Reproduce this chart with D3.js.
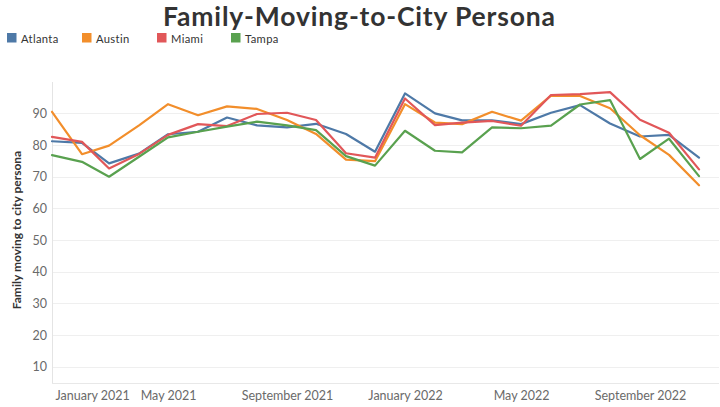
<!DOCTYPE html>
<html><head><meta charset="utf-8">
<script src="https://cdn.jsdelivr.net/npm/d3@7"></script>
<style>
html,body{margin:0;padding:0;background:#fff;}
svg{display:block;}
</style></head>
<body>
<svg id="chart" width="720" height="407"></svg>
<script>
const months = ["2021-01","2021-02","2021-03","2021-04","2021-05","2021-06","2021-07","2021-08","2021-09","2021-10","2021-11","2021-12",
  "2022-01","2022-02","2022-03","2022-04","2022-05","2022-06","2022-07","2022-08","2022-09","2022-10","2022-11"];
const cities = ["Atlanta","Austin","Miami","Tampa"];
const atlanta = [81.2,80.7,74.2,77.3,83.4,84.2,88.7,86.2,85.6,86.7,83.5,77.9,96.3,90.0,87.8,87.8,86.6,90.2,92.6,86.8,82.7,83.2,76.0];
const austin  = [90.5,77.1,79.8,86.2,92.9,89.4,92.2,91.4,87.9,83.5,75.4,74.9,92.9,87.1,86.6,90.5,87.7,95.6,95.5,91.6,83.1,76.9,67.3];
const miami   = [82.6,81.0,72.6,77.2,83.2,86.6,86.0,89.8,90.2,87.9,77.4,76.0,94.7,86.3,87.1,87.6,86.1,95.8,96.1,96.7,88.0,83.9,72.3];
const tampa   = [76.8,74.7,70.0,76.3,82.4,84.2,85.8,87.4,86.2,84.7,76.5,73.5,84.5,78.2,77.7,85.6,85.3,86.1,92.8,94.2,75.6,82.0,70.2];
const yTicks = [10,20,30,40,50,60,70,80,90];
const xTickLabels = ["January 2021","May 2021","September 2021","January 2022","May 2022","September 2022"];
const xTickDates = ["2021-01","2021-05","2021-09","2022-01","2022-05","2022-09"];
const colors = ["#4e79a7","#f28e2b","#e15759","#59a14f"];
const title = "Family-Moving-to-City Persona";
const yTitle = "Family moving to city persona";

const seriesValues = [atlanta, austin, miami, tampa];
const parse = d3.timeParse("%Y-%m");
const dates = months.map(parse);

const svg = d3.select("#chart");
const font = "Lato, 'Open Sans', sans-serif";

const plot = {left:52, right:719, top:82, bottom:383};
const x = d3.scaleTime().domain([dates[0], dates[dates.length-1]]).range([52, 699]);
const y = d3.scaleLinear().domain([0, 100]).range([398.4, 81.7]);

// gridlines
svg.append("g").selectAll("line").data(yTicks).join("line")
  .attr("x1", plot.left).attr("x2", plot.right)
  .attr("y1", d => Math.round(y(d))+0.5).attr("y2", d => Math.round(y(d))+0.5)
  .attr("stroke", "#efefef").attr("stroke-width", 1);

// axis lines
svg.append("line").attr("x1", plot.left+0.5).attr("x2", plot.left+0.5)
  .attr("y1", plot.top).attr("y2", plot.bottom).attr("stroke", "#e4e4e4");
svg.append("line").attr("x1", plot.left).attr("x2", plot.right)
  .attr("y1", plot.bottom+0.5).attr("y2", plot.bottom+0.5).attr("stroke", "#e8e8e8");

// y axis labels
const yAxis = d3.axisLeft(y).tickValues(yTicks).tickSize(0).tickPadding(5);
const yg = svg.append("g").attr("transform", `translate(${plot.left-0},0)`).call(yAxis);
yg.select(".domain").remove();
yg.selectAll("text").attr("font-family", font).attr("font-size", 12.5).attr("fill", "#6a6a6a");

// x axis labels
const xAxis = d3.axisBottom(x).tickValues(xTickDates.map(parse))
  .tickFormat((d,i) => xTickLabels[i]).tickSize(0).tickPadding(8);
const xg = svg.append("g").attr("transform", `translate(0,${plot.bottom})`).call(xAxis);
xg.select(".domain").remove();
xg.selectAll("text").attr("font-family", font).attr("font-size", 12.5).attr("fill", "#6a6a6a");
xg.selectAll("text").each(function(d){
  const w = this.getComputedTextLength();
  const cx = x(d);
  if (cx - w/2 < plot.left + 3) {
    d3.select(this).attr("text-anchor","start").attr("x", plot.left + 3 - cx);
  }
});

// y title
svg.append("text").attr("transform", `translate(21,230) rotate(-90)`)
  .attr("text-anchor","middle").attr("font-family", font).attr("font-size", 12)
  .attr("font-weight", 700).attr("fill", "#333").text(yTitle);

// lines
const line = d3.line().x((d,i) => x(dates[i])).y(d => y(d));
svg.append("g").selectAll("path").data(seriesValues).join("path")
  .attr("d", d => line(d)).attr("fill","none")
  .attr("stroke", (d,i) => colors[i]).attr("stroke-width", 2.2)
  .attr("stroke-linejoin","round").attr("stroke-linecap","round");

// title
svg.append("text").attr("x", 359).attr("y", 26.3).attr("text-anchor","middle")
  .attr("font-family", font).attr("font-size", 26.5).attr("font-weight", 700)
  .attr("textLength", 392).attr("lengthAdjust", "spacing")
  .attr("fill", "#333").text(title);

// legend
const legendX = [7, 82, 157, 231];
const lg = svg.append("g").selectAll("g").data(cities).join("g")
  .attr("transform", (d,i) => `translate(${legendX[i]},33)`);
lg.append("rect").attr("width", 9.5).attr("height", 9.5).attr("fill", (d,i) => colors[i]);
lg.append("text").attr("x", 14).attr("y", 9.8).attr("font-family", font).attr("font-size", 11.2)
  .attr("fill", "#333").attr("letter-spacing", 0.35).text(d => d);
</script>
</body></html>
